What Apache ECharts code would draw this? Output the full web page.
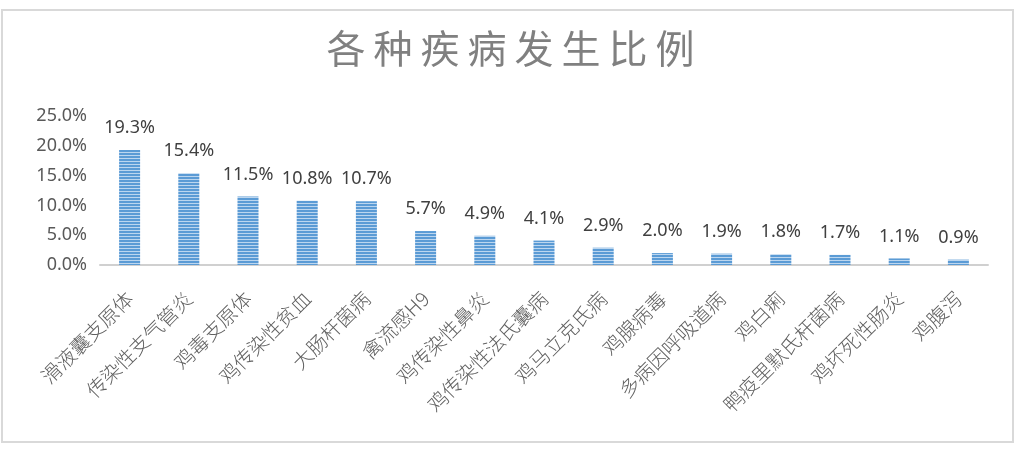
<!DOCTYPE html>
<html><head><meta charset="utf-8">
<script src="https://cdn.jsdelivr.net/npm/echarts@6/dist/echarts.min.js"></script>
<style>html,body{margin:0;padding:0;background:#fff}#c{width:1021px;height:452px}</style>
</head><body><div id="c"></div>
<script>
const titleText = '各种疾病发生比例';
const categories = ['滑液囊支原体','传染性支气管炎','鸡毒支原体','鸡传染性贫血','大肠杆菌病','禽流感H9','鸡传染性鼻炎','鸡传染性法氏囊病','鸡马立克氏病','鸡腺病毒','多病因呼吸道病','鸡白痢','鸭疫里默氏杆菌病','鸡坏死性肠炎','鸡腹泻'];
const values = [19.3,15.4,11.5,10.8,10.7,5.7,4.9,4.1,2.9,2.0,1.9,1.8,1.7,1.1,0.9];
const yTicks = [0,5,10,15,20,25];

// striped fill pattern
const pc = document.createElement('canvas');
pc.width = 4; pc.height = 3;
const px = pc.getContext('2d');
px.fillStyle = '#5b9bd5'; px.fillRect(0,0,4,2);
px.fillStyle = '#bcd6ef'; px.fillRect(0,2,4,1);

const chart = echarts.init(document.getElementById('c'), null, {renderer:'canvas'});
const rich = {c:{fontSize:39, color:'#808080', fontWeight:'normal', padding:[0,4], fontFamily:'Noto Sans CJK SC'}};
chart.setOption({
  backgroundColor:'#fff',
  animation:false,
  title:{
    text: titleText.split('').map(ch=>'{c|'+ch+'}').join(''),
    left:'center', top:24,
    textStyle:{rich:rich, fontSize:39, fontWeight:'normal', color:'#808080'}
  },
  graphic:[{type:'rect', shape:{x:2,y:10,width:1011,height:432}, style:{fill:'none', stroke:'#d9d9d9', lineWidth:2}, silent:true}],
  grid:{left:100, right:33, top:116, bottom:187},
  xAxis:{
    type:'category', data:categories,
    axisLine:{lineStyle:{color:'#d0d0d0', width:2}},
    axisTick:{show:false},
    axisLabel:{rotate:45, interval:0, margin:30, fontSize:20, color:'#606060', fontFamily:'Noto Sans CJK SC', fontWeight:300}
  },
  yAxis:{
    type:'value', min:yTicks[0], max:yTicks[yTicks.length-1], interval:5,
    axisLine:{show:false}, axisTick:{show:false}, splitLine:{show:false},
    axisLabel:{margin:13, fontSize:18, color:'#595959', fontFamily:'Noto Sans', formatter:v=>v.toFixed(1)+'%'}
  },
  series:[{
    type:'bar', data:values, barWidth:21,
    itemStyle:{color:{image:pc, repeat:'repeat'}},
    label:{show:true, position:'top', distance:13, fontSize:18, color:'#404040', fontFamily:'Noto Sans', formatter:p=>p.value.toFixed(1)+'%'}
  }]
});
</script></body></html>
